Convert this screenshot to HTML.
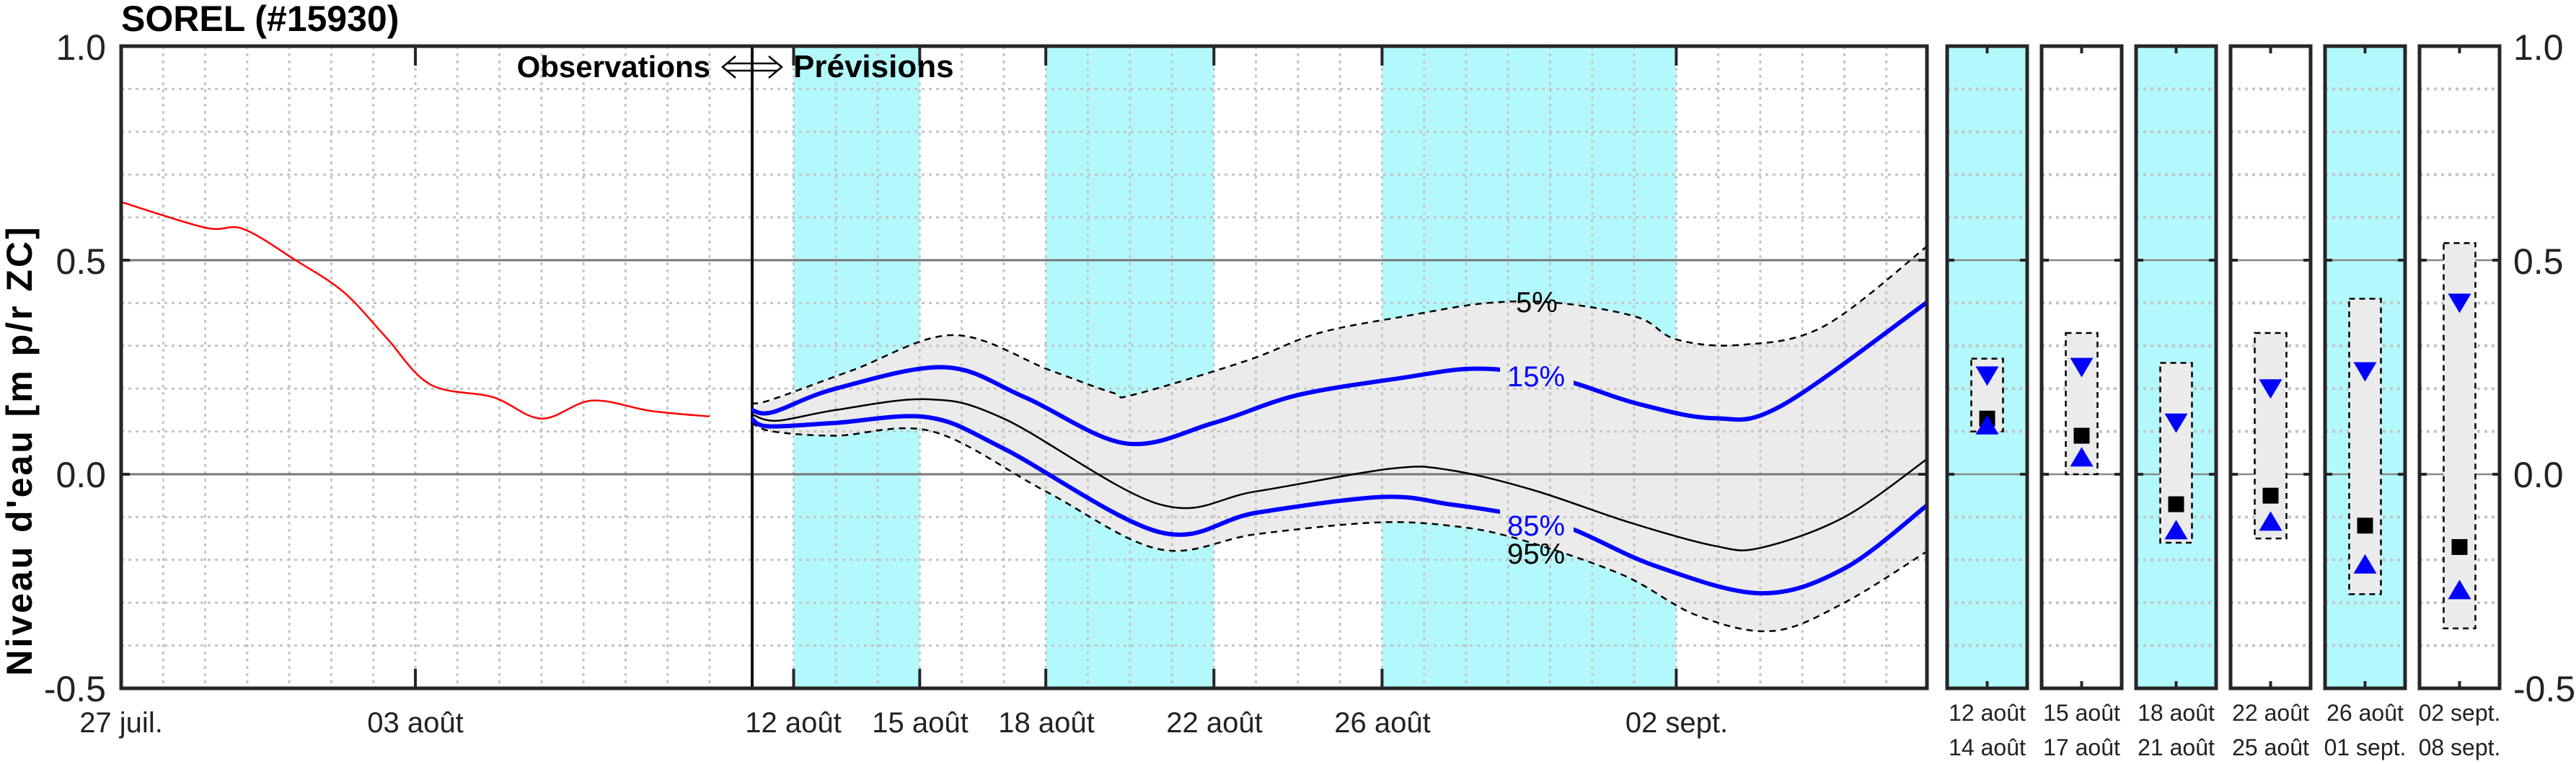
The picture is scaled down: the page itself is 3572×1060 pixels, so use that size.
<!DOCTYPE html>
<html><head><meta charset="utf-8"><style>
html,body{margin:0;padding:0;background:#fff;}
svg{display:block;font-family:"Liberation Sans",Arial,sans-serif;}
</style></head><body>
<svg id="s" width="3572" height="1060" viewBox="0 0 3572 1060" xmlns="http://www.w3.org/2000/svg">
<defs>
<mask id="m15" maskUnits="userSpaceOnUse" x="0" y="0" width="3572" height="1060">
<rect x="0" y="0" width="3572" height="1060" fill="#fff"/>
<rect x="2080" y="480" width="102" height="80" fill="#000"/>
<rect x="2080" y="690" width="102" height="60" fill="#000"/>
</mask>
<clipPath id="cp"><rect x="168" y="64" width="2504" height="891"/></clipPath>
</defs>
<g id="bg"></g>
<g id="grid"></g>
<g id="curves" clip-path="url(#cp)"></g>
<g id="panels"></g>
<g id="frame"></g>
<text x="168" y="43" font-size="50" font-weight="bold">SOREL (#15930)</text>
<text transform="translate(44,625) rotate(-90)" text-anchor="middle" font-size="50" font-weight="bold" letter-spacing="3">Niveau d'eau [m p/r ZC]</text>
<text x="985" y="107" text-anchor="end" font-size="42" font-weight="bold">Observations</text>
<g stroke="#000" stroke-width="2.5" fill="none">
<line x1="1008" y1="88" x2="1078" y2="88"/><line x1="1008" y1="98" x2="1078" y2="98"/>
<polyline points="1020,78 1002,93 1020,108"/><polyline points="1066,78 1084,93 1066,108"/>
</g>
<text x="1100" y="107" font-size="44" font-weight="bold">Prévisions</text>
<g font-size="50" fill="#222" text-anchor="end">
<text x="147" y="83">1.0</text><text x="147" y="380">0.5</text><text x="147" y="676">0.0</text><text x="147" y="973">-0.5</text>
</g>
<g font-size="50" fill="#222">
<text x="3485" y="83">1.0</text><text x="3485" y="380">0.5</text><text x="3485" y="676">0.0</text><text x="3485" y="973">-0.5</text>
</g>
<g font-size="40" fill="#222" text-anchor="middle">
<text x="168" y="1016">27 juil.</text><text x="576" y="1016">03 août</text>
<text x="1100" y="1016">12 août</text><text x="1276" y="1016">15 août</text><text x="1451" y="1016">18 août</text>
<text x="1684" y="1016">22 août</text><text x="1917" y="1016">26 août</text><text x="2325" y="1016">02 sept.</text>
</g>
<g font-size="32" fill="#222" text-anchor="middle" id="plab"></g>
<g font-size="40">
<text x="2102" y="433">5%</text>
<text x="2090" y="536" fill="#0000ff">15%</text>
<text x="2090" y="743" fill="#0000ff">85%</text>
<text x="2090" y="782">95%</text>
</g>
</svg>
<script>
var NS="http://www.w3.org/2000/svg";
function el(p,t,a){var e=document.createElementNS(NS,t);for(var k in a)e.setAttribute(k,a[k]);document.getElementById(p).appendChild(e);return e;}
var X0=168,DX=58.28,L=168,R=2672,T=64,B=955;
function X(d){return X0+d*DX;}function Y(v){return 658-v*594;}
[[16,19],[22,26],[30,37]].forEach(function(b){el("bg","rect",{x:X(b[0]),y:T,width:X(b[1])-X(b[0]),height:B-T,fill:"#b3f9fc"});});
function pts(a){return a.map(function(p){return [X(p[0]),Y(p[1])];});}
function cr(P){var d="M"+P[0][0].toFixed(1)+","+P[0][1].toFixed(1);for(var i=0;i<P.length-1;i++){var p0=P[i-1]||P[i],p1=P[i],p2=P[i+1],p3=P[i+2]||p2;
var c1=[p1[0]+(p2[0]-p0[0])/6,p1[1]+(p2[1]-p0[1])/6],c2=[p2[0]-(p3[0]-p1[0])/6,p2[1]-(p3[1]-p1[1])/6];
d+=" C"+c1[0].toFixed(1)+","+c1[1].toFixed(1)+" "+c2[0].toFixed(1)+","+c2[1].toFixed(1)+" "+p2[0].toFixed(1)+","+p2[1].toFixed(1);}return d;}
var p5=[[15,0.165],[15.5,0.175],[17.4,0.243],[19.8,0.325],[22.1,0.243],[23.6,0.19],[24.1,0.186],[26.8,0.266],[28.5,0.33],[30.6,0.37],[32.5,0.40],[34.2,0.40],[36.07,0.367],[37.0,0.315],[38.5,0.302],[40.5,0.345],[43,0.535]];
var p95=[[15,0.12],[15.5,0.1],[17,0.09],[19.3,0.1],[22,-0.04],[24.7,-0.175],[27,-0.14],[29.8,-0.113],[31.6,-0.12],[33.2,-0.15],[35.7,-0.234],[37.5,-0.33],[39.3,-0.366],[41,-0.3],[43,-0.178]];
var p15=[[15,0.15],[15.5,0.145],[17,0.2],[19.6,0.25],[21.5,0.18],[23.9,0.072],[26,0.12],[28,0.185],[30.6,0.227],[32,0.246],[33.2,0.24],[34.5,0.215],[36.07,0.165],[37.9,0.131],[39.5,0.16],[43,0.404]];
var pm=[[15,0.14],[15.6,0.125],[17,0.15],[19.2,0.175],[21,0.13],[24.7,-0.07],[27,-0.04],[30.2,0.013],[31.6,0.01],[33.6,-0.037],[35.9,-0.113],[37.9,-0.167],[39,-0.172],[41,-0.1],[43,0.038]];
var p85=[[15,0.13],[15.4,0.112],[17,0.12],[19.2,0.133],[21,0.06],[24.7,-0.135],[27,-0.09],[30,-0.053],[31.6,-0.07],[33.1,-0.093],[34.5,-0.127],[36.5,-0.214],[39,-0.278],[41,-0.22],[43,-0.07]];
var red=[[0,0.636],[2.0,0.576],[2.9,0.573],[4.15,0.5],[5.3,0.425],[6.3,0.32],[7.35,0.21],[8.85,0.18],[10.0,0.13],[11.2,0.172],[12.6,0.148],[14.0,0.135]];
var up=cr(pts(p5)),lo=pts(p95).reverse();
el("bg","path",{d:up+" L"+cr(lo).slice(1)+" Z",fill:"#ebebeb"});
for(var d=1;d<43;d++)el("grid","line",{x1:X(d),y1:T,x2:X(d),y2:B,stroke:"#c4c4c4","stroke-width":3,"stroke-dasharray":"4 6"});
function hgrid(x1,x2){for(var i=-4;i<=9;i++){if(i==0||i==5)continue;var y=Y(i/10);el("grid","line",{x1:x1,y1:y,x2:x2,y2:y,stroke:"#c4c4c4","stroke-width":3,"stroke-dasharray":"4 6"});}
[0,0.5].forEach(function(v){el("grid","line",{x1:x1,y1:Y(v),x2:x2,y2:Y(v),stroke:"#777","stroke-width":3});});}
hgrid(L,R);
el("grid","line",{x1:1043,y1:T,x2:1043,y2:B,stroke:"#111","stroke-width":4});
el("curves","path",{d:cr(pts(red)),fill:"none",stroke:"#ff0000","stroke-width":2.5});
el("curves","path",{d:up,fill:"none",stroke:"#000","stroke-width":2.5,"stroke-dasharray":"9 7"});
el("curves","path",{d:cr(pts(p95)),fill:"none",stroke:"#000","stroke-width":2.5,"stroke-dasharray":"9 7"});
el("curves","path",{d:cr(pts(pm)),fill:"none",stroke:"#000","stroke-width":2.5});
el("curves","path",{d:cr(pts(p15)),fill:"none",stroke:"#0000ff","stroke-width":6,mask:"url(#m15)"});
el("curves","path",{d:cr(pts(p85)),fill:"none",stroke:"#0000ff","stroke-width":6,mask:"url(#m15)"});
el("frame","rect",{x:L,y:T,width:R-L,height:B-T,fill:"none",stroke:"#262626","stroke-width":5});
[0,7,16,19,22,26,30,37].forEach(function(d){var x=X(d);el("frame","line",{x1:x,y1:T,x2:x,y2:T+27,stroke:"#262626","stroke-width":4});el("frame","line",{x1:x,y1:B,x2:x,y2:B-27,stroke:"#262626","stroke-width":4});});
[0.5,0].forEach(function(v){el("frame","line",{x1:L,y1:Y(v),x2:L+12,y2:Y(v),stroke:"#262626","stroke-width":4});el("frame","line",{x1:R,y1:Y(v),x2:R-12,y2:Y(v),stroke:"#262626","stroke-width":4});});
var px=[2700,2831,2962,3093,3224,3355],PW=111;
var pd=[[0.27,0.10,0.23,0.13,0.115],[0.33,0.0,0.25,0.09,0.04],[0.26,-0.16,0.12,-0.07,-0.13],[0.33,-0.15,0.20,-0.05,-0.11],[0.41,-0.28,0.24,-0.12,-0.21],[0.54,-0.36,0.40,-0.17,-0.27]];
var l1=["12 août","15 août","18 août","22 août","26 août","02 sept."],l2=["14 août","17 août","21 août","25 août","01 sept.","08 sept."];
px.forEach(function(x,i){
 if(i%2==0)el("panels","rect",{x:x,y:T,width:PW,height:B-T,fill:"#b3f9fc"});
 for(var k=-4;k<=9;k++){if(k==0||k==5)continue;el("panels","line",{x1:x,y1:Y(k/10),x2:x+PW,y2:Y(k/10),stroke:"#c4c4c4","stroke-width":4,"stroke-dasharray":"4 6"});}
 [0,0.5].forEach(function(v){el("panels","line",{x1:x,y1:Y(v),x2:x+PW,y2:Y(v),stroke:"#888","stroke-width":2.5});
  el("panels","line",{x1:x,y1:Y(v),x2:x+10,y2:Y(v),stroke:"#262626","stroke-width":4});el("panels","line",{x1:x+PW,y1:Y(v),x2:x+PW-10,y2:Y(v),stroke:"#262626","stroke-width":4});});
 var c=x+PW/2,p=pd[i];
 el("panels","rect",{x:c-22,y:Y(p[0]),width:44,height:Y(p[1])-Y(p[0]),fill:"#ebebeb",stroke:"#000","stroke-width":2.5,"stroke-dasharray":"8 6"});
 var y1=Y(p[2]);el("panels","path",{d:"M"+(c-16)+","+(y1-13)+" L"+(c+16)+","+(y1-13)+" L"+c+","+(y1+14)+"Z",fill:"#0000ff"});
 var ym=Y(p[3]);el("panels","rect",{x:c-11,y:ym-11,width:22,height:22,fill:"#000"});
 var y2=Y(p[4]);el("panels","path",{d:"M"+(c-16)+","+(y2+13)+" L"+(c+16)+","+(y2+13)+" L"+c+","+(y2-14)+"Z",fill:"#0000ff"});
 el("panels","rect",{x:x,y:T,width:PW,height:B-T,fill:"none",stroke:"#262626","stroke-width":5});
 el("panels","line",{x1:c,y1:T,x2:c,y2:T+10,stroke:"#262626","stroke-width":4});
 el("panels","line",{x1:c,y1:B,x2:c,y2:B-10,stroke:"#262626","stroke-width":4});
 var t=el("plab","text",{x:c,y:1000});t.textContent=l1[i];
 var t2=el("plab","text",{x:c,y:1048});t2.textContent=l2[i];
});
</script>
</body></html>
